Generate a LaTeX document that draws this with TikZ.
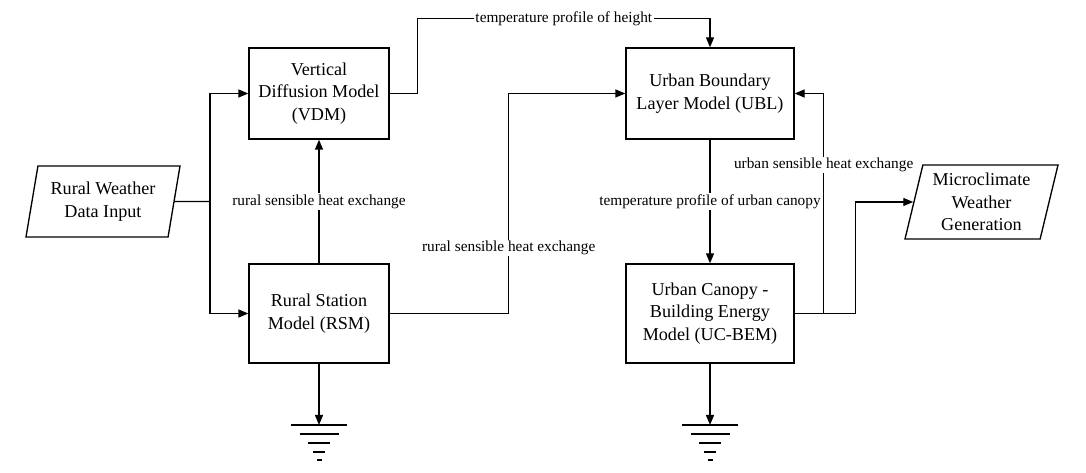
\documentclass[tikz,border=0pt]{standalone}
\usepackage{fontspec}
\setmainfont{Liberation Serif}
\usetikzlibrary{shapes,arrows.meta,calc}

\begin{document}
\begin{tikzpicture}[x=0.75pt,y=-0.75pt,
  block/.style={shape=rectangle,draw=black,align=center,line width=1pt,font=\fontsize{13.6}{16.9}\selectfont},
  io/.style={trapezium,trapezium stretches body,draw=black,align=center,line width=1pt,font=\fontsize{13.6}{16.9}\selectfont},
  wire/.style={-,draw=black,line width=1pt},
  flow/.style={-{Triangle[length=7.5pt,width=6pt]},draw=black,line width=1pt},
  lbl/.style={fill=white,inner sep=1pt,font=\fontsize{11.5}{13.8}\selectfont}]
\useasboundingbox (0,0) rectangle (1086,473);

\node[io,trapezium left angle=76,trapezium right angle=104,minimum width=115.5pt,minimum height=53.25pt] (rw) at (103,201.5) {Rural Weather\\Data Input};
\node[block,minimum width=105pt,minimum height=68.25pt] (vdm) at (319,93.5) {Vertical\\Diffusion Model\\(VDM)};
\node[block,minimum width=105pt,minimum height=74.25pt] (rsm) at (319,313.5) {Rural Station\\Model (RSM)};
\node[block,minimum width=126pt,minimum height=68.25pt] (ubl) at (710,93.5) {Urban Boundary\\Layer Model (UBL)};
\node[block,minimum width=126pt,minimum height=74.25pt] (ucbem) at (710,313.5) {Urban Canopy -\\Building Energy\\Model (UC-BEM)};
\node[io,trapezium left angle=75,trapezium right angle=105,minimum width=114.75pt,minimum height=55.5pt] (mw) at (981.5,202) {Microclimate\\Weather\\Generation};

\coordinate (split) at (210,201.5);
\coordinate (g1) at (319,425);
\coordinate (g2) at (710,425);

\path [wire] (rw.east) -- (split);
\path [flow] (split) |- (vdm.west);
\path [flow] (split) |- (rsm.west);
\path [flow] (rsm.north) -- node[lbl] {rural sensible heat exchange} (vdm.south);
\path [flow] (vdm.east) -- ++(28,0) |- node[lbl,pos=0.75] {temperature profile of height} ($(ubl.north)+(0,-29)$) -- (ubl.north);
\path [flow] (rsm.east) -- ++(119,0) |- node[lbl,pos=0.149] {rural sensible heat exchange} (ubl.west);
\path [flow] (ubl.south) -- node[lbl] {temperature profile of urban canopy} (ucbem.north);
\path [flow] (ucbem.east) -- ++(29,0) |- node[lbl,pos=0.3375] {urban sensible heat exchange} (ubl.east);
\path [flow] (ucbem.east) -- ++(61,0) |- (mw.west);

% ground
\path [flow] (rsm.south) -- (g1);
\path [flow] (ucbem.south) -- (g2);
\foreach \g in {g1,g2}
  \foreach \w/\d in {28/0,19.5/9,11/18,6/27,2.5/35}
    \path [wire] ($(\g)+(-\w,\d)$) -- ($(\g)+(\w,\d)$);
\end{tikzpicture}
\end{document}
